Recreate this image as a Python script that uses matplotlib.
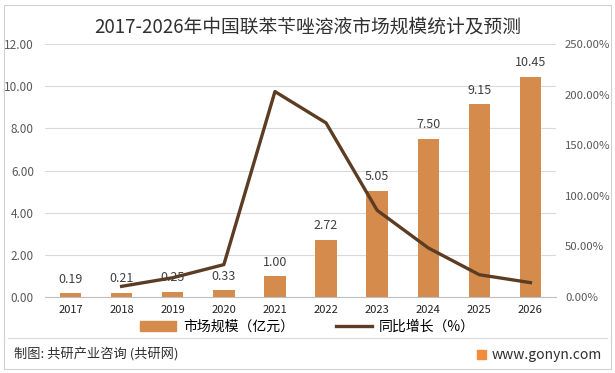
import matplotlib.pyplot as plt
from matplotlib.patches import Rectangle
from matplotlib.lines import Line2D

plt.rcParams['font.family'] = ['Noto Sans CJK SC', 'DejaVu Sans']

years = ['2017', '2018', '2019', '2020', '2021', '2022', '2023', '2024', '2025', '2026']
market = [0.19, 0.21, 0.25, 0.33, 1.00, 2.72, 5.05, 7.50, 9.15, 10.45]
growth_years = years[1:]
growth = [10.53, 19.05, 32.0, 203.0, 172.0, 85.66, 48.51, 22.0, 14.21]

bar_color = '#D58B4B'
line_color = '#5C3D24'

fig = plt.figure(figsize=(6.15, 3.73), dpi=100)
ax = fig.add_axes([45 / 615, 1 - 297 / 373, 511 / 615, 253 / 373])

x = list(range(len(years)))
ax.bar(x, market, width=0.42, color=bar_color, zorder=2)
for i, v in enumerate(market):
    ax.text(i, v + 0.35, f'{v:.2f}', ha='center', va='bottom', fontsize=9, color='#404040')

ax.set_xlim(-0.5, len(years) - 0.5)
ax.set_ylim(0, 12)
ax.set_yticks([0, 2, 4, 6, 8, 10, 12])
ax.set_yticklabels([f'{t:.2f}' for t in [0, 2, 4, 6, 8, 10, 12]], fontsize=8.5, color='#595959')
ax.set_xticks(x)
ax.set_xticklabels(years, fontsize=8, color='#202020')
ax.tick_params(axis='y', length=0, pad=8)
ax.tick_params(axis='x', length=0, pad=6)
ax.grid(axis='y', color='#D9D9D9', linewidth=0.8, zorder=0)
for s in ['top', 'left', 'right']:
    ax.spines[s].set_visible(False)
ax.spines['bottom'].set_color('#BFBFBF')

ax2 = ax.twinx()
gx = [years.index(y) for y in growth_years]
ax2.plot(gx, growth, color=line_color, linewidth=2.4, zorder=3)
ax2.set_ylim(0, 250)
ax2.set_yticks([0, 50, 100, 150, 200, 250])
ax2.set_yticklabels([f'{t:.2f}%' for t in [0, 50, 100, 150, 200, 250]], fontsize=8.2, color='#595959')
ax2.tick_params(length=0, pad=6.5)
for s in ax2.spines.values():
    s.set_visible(False)

fig.text(0.5, 1 - 27 / 373, '2017-2026年中国联苯苄唑溶液市场规模统计及预测',
         ha='center', va='center', fontsize=13.5, color='#303030')

handles = [Rectangle((0, 0), 1, 1, color=bar_color),
           Line2D([0], [0], color=line_color, linewidth=2.4)]
fig.legend(handles, ['市场规模（亿元）', '同比增长（%）'], loc='center',
           bbox_to_anchor=(0.5, 1 - 327 / 373), ncol=2, frameon=False,
           fontsize=10, handlelength=2.6, columnspacing=3, handletextpad=0.5)

fig.add_artist(Line2D([8 / 615, 607 / 615], [1 - 338 / 373, 1 - 338 / 373],
                      color='#D9D9D9', linewidth=0.8))
fig.add_artist(Rectangle((4 / 615, 4 / 373), 607 / 615, 364 / 373, fill=False,
                         edgecolor='#D0D0D0', linewidth=0.8, transform=fig.transFigure))
fig.text(14 / 615, 1 - 355 / 373, '制图: 共研产业咨询 (共研网)', ha='left', va='center',
         fontsize=9.5, color='#303030')
fig.text(602 / 615, 1 - 355 / 373, 'www.gonyn.com', ha='right', va='center',
         fontsize=10, color='#303030')
fig.add_artist(Rectangle((477 / 615, 1 - 359 / 373), 9 / 615, 9 / 373,
                         color='#F08C3A', transform=fig.transFigure))

fig.savefig('out.png', dpi=100)
